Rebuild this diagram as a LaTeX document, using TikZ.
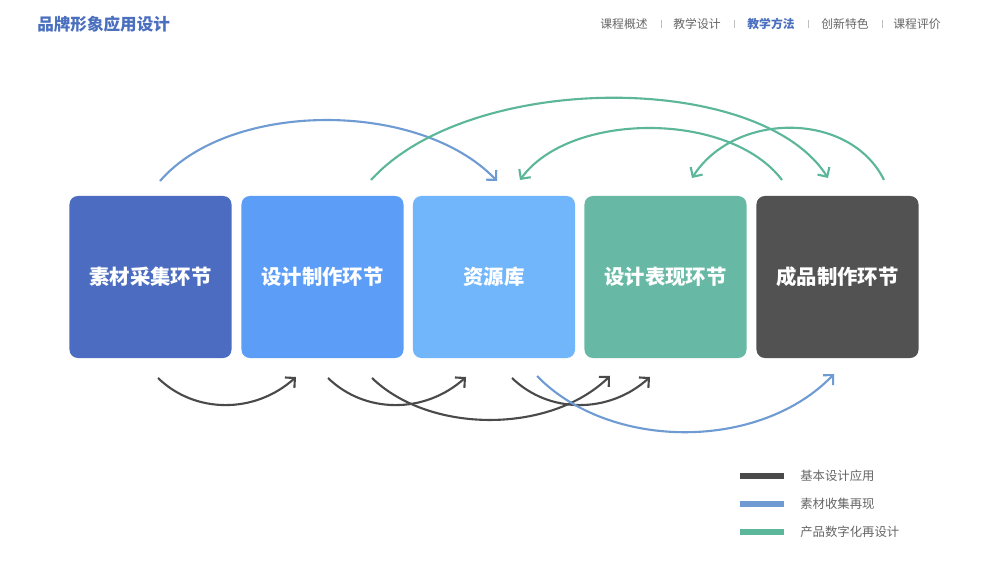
\documentclass[tikz,border=0pt]{standalone}
\usepackage{fontspec}
\newfontfamily\cjk{Noto Sans CJK SC}
\usetikzlibrary{arrows.meta}

\definecolor{titleblue}{HTML}{4A6FBF}
\definecolor{boxA}{HTML}{4B6CC0}
\definecolor{boxB}{HTML}{5B9DF7}
\definecolor{boxC}{HTML}{71B6FB}
\definecolor{boxD}{HTML}{67B9A5}
\definecolor{boxE}{HTML}{525252}
\definecolor{lineDark}{HTML}{4A4A4A}
\definecolor{lineBlue}{HTML}{6F9BD3}
\definecolor{lineGreen}{HTML}{5BB69A}
\definecolor{navgray}{HTML}{666666}

\tikzset{
  stage/.style={rounded corners=6pt, minimum width=4.05cm, minimum height=4.05cm,
    inner sep=0pt, text=white, font=\cjk\bfseries\fontsize{14.5pt}{16pt}\selectfont},
  flow/.style={line width=1.5pt, -{Straight Barb[length=5pt,width=10pt,line width=1.5pt]}},
  navtext/.style={text=navgray, font=\cjk\fontsize{8.4pt}{10pt}\selectfont, inner sep=0pt},
  legtext/.style={text=navgray, font=\cjk\fontsize{8.8pt}{10pt}\selectfont, anchor=west, inner sep=0pt}
}

\begin{document}
\begin{tikzpicture}[x=0.025cm, y=-0.025cm]
  \useasboundingbox[fill=white] (0,0) rectangle (1000,563);

  % Kopfzeile
  \node[text=titleblue, font=\cjk\bfseries\fontsize{11.8pt}{14pt}\selectfont,
        anchor=west, inner sep=0pt] (title) at (37,24) {品牌形象应用设计};
  \node[navtext] (nav1) at (624,24) {课程概述};
  \node[navtext] (nav2) at (697,24) {教学设计};
  \node[navtext, text=titleblue, font=\cjk\bfseries\fontsize{8.4pt}{10pt}\selectfont] (nav3) at (771,24) {教学方法};
  \node[navtext] (nav4) at (845,24) {创新特色};
  \node[navtext] (nav5) at (917,24) {课程评价};
  \foreach \sx in {661,734,808,882}
    \draw[gray!50, line width=0.5pt] (\sx,20) -- (\sx,28);

  % Fuenf Stufen
  \node[stage, fill=boxA] (b1) at (150.5,277) {素材采集环节};
  \node[stage, fill=boxB] (b2) at (322.5,277) {设计制作环节};
  \node[stage, fill=boxC] (b3) at (494,277) {资源库};
  \node[stage, fill=boxD] (b4) at (665.5,277) {设计表现环节};
  \node[stage, fill=boxE] (b5) at (837.5,277) {成品制作环节};

  % Enden der Boegen oben
  \coordinate (tb1) at (160,181);  \coordinate (tb2) at (497,181);
  \coordinate (tg1) at (371,180);  \coordinate (tg2) at (828,178);
  \coordinate (tg3) at (782,180);  \coordinate (tg4) at (520,180);
  \coordinate (tg5) at (884,180);  \coordinate (tg6) at (692,178);

  \draw[flow, lineBlue] (tb1) .. controls (230,100) and (420,100) .. (tb2);
  \draw[flow, lineGreen] (tg1) .. controls (470,71) and (760,71) .. (tg2);
  \draw[flow, lineGreen] (tg3) .. controls (730,111) and (570,111) .. (tg4);
  \draw[flow, lineGreen] (tg5) .. controls (850,111) and (735,111) .. (tg6);

  % Enden der Boegen unten
  \coordinate (ud1) at (158,378);  \coordinate (ud2) at (296,377);
  \coordinate (ud3) at (328,378);  \coordinate (ud4) at (466,377);
  \coordinate (ud5) at (372,378);  \coordinate (ud6) at (610,376);
  \coordinate (ud7) at (512,378);  \coordinate (ud8) at (650,377);
  \coordinate (ub1) at (537,376);  \coordinate (ub2) at (834,374);

  \draw[flow, lineDark] (ud1) .. controls (195,414) and (255,414) .. (ud2);
  \draw[flow, lineDark] (ud3) .. controls (365,414) and (425,414) .. (ud4);
  \draw[flow, lineDark] (ud5) .. controls (430,434) and (550,434) .. (ud6);
  \draw[flow, lineDark] (ud7) .. controls (549,414) and (609,414) .. (ud8);
  \draw[flow, lineBlue] (ub1) .. controls (610,451) and (760,451) .. (ub2);

  % Legende
  \foreach \ly/\lc/\lt [count=\li] in {476/lineDark/基本设计应用, 504/lineBlue/素材收集再现, 532/lineGreen/产品数字化再设计} {
    \draw[\lc, line width=4pt] (740,\ly) -- (784,\ly);
    \node[legtext] (leg\li) at (800,\ly) {\lt};
  }
\end{tikzpicture}
\end{document}
